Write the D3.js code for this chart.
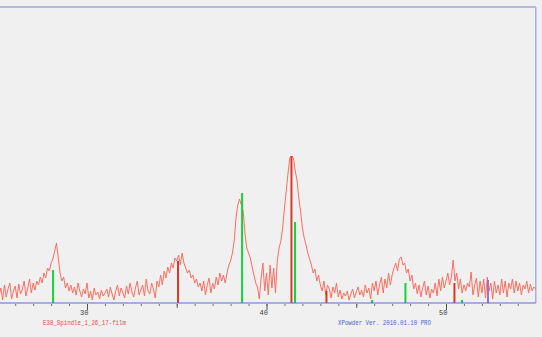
<!DOCTYPE html>
<html>
<head>
<meta charset="utf-8">
<script src="https://cdn.jsdelivr.net/npm/d3@7.9.0/dist/d3.min.js"></script>
<style>
  html, body { margin: 0; padding: 0; background: #f0f0f0; }
  svg { display: block; }
</style>
</head>
<body>
<svg id="chart" width="542" height="337"></svg>
<script>
// scan grid: 2theta from 25 to 55, step 0.1
const scanStart = 25;
const scanStep = 0.1;

const counts = [
  22, 8, 15, 3, 18, 6, 14, 20, 4, 12, 17, 5, 19, 9, 14, 22, 7,
  15, 24, 10, 20, 13, 22, 18,
  26, 20, 30, 25, 35, 32, 40, 44, 52, 60,
  45, 30, 22, 26, 15, 20, 12,
  18, 10, 16, 8, 20, 12, 6, 14, 9, 20,
  5, 12, 3, 15, 8, 11, 4, 13, 7, 10,
  14, 6, 16, 9, 3, 12, 18, 7, 15, 10,
  5, 17, 9, 20, 11, 6, 15, 22, 8, 13,
  18, 7, 24, 12, 9, 20, 14, 5, 22, 16,
  28, 18, 32, 25, 36, 30, 40, 35, 45, 42,
  48, 38, 50, 40, 35, 30, 33, 25, 28, 20,
  24, 16, 20, 12, 22, 8, 18, 25, 10, 20,
  14, 26, 18, 30, 22, 28, 20, 30, 38, 42,
  50, 62, 85, 98, 104, 98, 92, 70, 55, 50,
  45, 36, 28, 20, 16, 4, 25, 40, 12, 30,
  8, 38, 15, 35, 10, 42, 55, 62, 75, 95,
  112, 130, 145, 147, 145, 132, 123, 105, 92, 75,
  65, 58, 50, 44, 38, 30, 34, 22, 28, 18,
  12, 22, 8, 18, 14, 5, 16, 10, 20, 6,
  13, 4, 10, 7, 12, 3, 9, 14, 5, 11,
  16, 8, 13, 6, 18, 10, 15, 4, 20, 12,
  22, 8, 18, 26, 10, 24, 15, 30, 18, 28,
  35, 40, 32, 44, 46, 38, 40, 30, 34, 22,
  28, 14, 20, 9, 18, 6, 15, 22, 8, 17,
  5, 14, 10, 20, 7, 24, 12, 26, 15, 22,
  30, 18, 26, 43, 22, 30, 14, 24, 10, 18,
  12, 20, 16, 31, 8, 18, 25, 6, 22, 10,
  24, 5, 26, 12, 20, 4, 22, 10, 18, 8,
  24, 10, 22, 6, 20, 14, 24, 10, 22, 12,
  20, 8, 18, 14, 22, 10, 19, 12, 16, 14
];

// reference patterns (stick positions and heights)
const greenPos = [28.11, 38.64, 41.59, 45.88, 47.74, 50.89];
const greenH = [33, 110, 81, 3, 20, 3];
const redPos = [35.07, 41.39, 43.34, 50.47];
const redH = [42, 147, 12, 20];
const purplePos = [52.34];
const purpleH = [23];

const majorTicks = [30, 40, 50];
const midTicks = [35, 45];
const minorTicks = d3.range(26, 55);

const fileName = 'E38_Spindle_1_26_17-film';
const versionText = 'XPowder Ver. 2010.01.10 PRO';

const svg = d3.select('#chart');

const x = d3.scaleLinear().domain([25, 55]).range([-2.75, 535.75]);
const y = d3.scaleLinear().domain([0, 296]).range([303, 7]);

// frame (top + right), baseline drawn with the axis
svg.append('line')
  .attr('x1', 0).attr('x2', x(55))
  .attr('y1', y(296)).attr('y2', y(296))
  .attr('stroke', '#a2a8da').attr('stroke-width', 1.5);
svg.append('line')
  .attr('x1', x(55)).attr('x2', x(55))
  .attr('y1', y(296)).attr('y2', y(0))
  .attr('stroke', '#a8aee0').attr('stroke-width', 1.5);

// profile
const pts = counts.map((c, i) => [scanStart + i * scanStep, c]);
const line = d3.line().x(d => x(d[0])).y(d => y(d[1]));
svg.append('path')
  .datum(pts)
  .attr('d', line)
  .attr('fill', 'none')
  .attr('stroke', '#fb6e60')
  .attr('stroke-width', 1);

// sticks
function sticks(pos, h, color) {
  svg.append('g').selectAll('line')
    .data(pos.map((p, i) => [p, h[i]]))
    .join('line')
    .attr('x1', d => x(d[0])).attr('x2', d => x(d[0]))
    .attr('y1', y(0)).attr('y2', d => y(d[1]))
    .attr('stroke', color).attr('stroke-width', 2);
}
sticks(redPos, redH, '#d83a26');
sticks(purplePos, purpleH, '#9a72c8');
sticks(greenPos, greenH, '#14d23a');

// axis
const axisG = svg.append('g').attr('transform', `translate(0,${y(0)})`);
axisG.append('line')
  .attr('x1', 0).attr('x2', x(55))
  .attr('stroke', '#5a6ad6').attr('stroke-width', 1.2);

function tickSet(vals, len, color) {
  const g = axisG.append('g')
    .call(d3.axisBottom(x).tickValues(vals).tickSize(len).tickFormat(''));
  g.select('.domain').remove();
  g.selectAll('line').attr('stroke', color).attr('transform', 'translate(0,1)');
  return g;
}
tickSet(minorTicks, 2, '#707070');
tickSet(midTicks, 4, '#606060');
const majorG = axisG.append('g')
  .call(d3.axisBottom(x).tickValues(majorTicks).tickSize(6).tickPadding(1).tickFormat(d3.format('d')));
majorG.select('.domain').remove();
majorG.selectAll('line').attr('stroke', '#505050').attr('transform', 'translate(0,1)');
majorG.selectAll('text')
  .attr('text-anchor', 'end')
  .attr('dx', 1)
  .attr('fill', '#404040')
  .style('font-family', 'Liberation Mono, monospace')
  .style('font-size', '7px');

// captions
svg.append('text')
  .attr('x', 43).attr('y', 324.5)
  .attr('textLength', 83).attr('lengthAdjust', 'spacingAndGlyphs')
  .attr('fill', '#e04c48')
  .style('font-family', 'Liberation Mono, monospace')
  .style('font-size', '7.5px')
  .text(fileName);
svg.append('text')
  .attr('x', 338).attr('y', 324.5)
  .attr('textLength', 93).attr('lengthAdjust', 'spacingAndGlyphs')
  .attr('fill', '#4a62d6')
  .style('font-family', 'Liberation Mono, monospace')
  .style('font-size', '7.5px')
  .text(versionText);
</script>
</body>
</html>
